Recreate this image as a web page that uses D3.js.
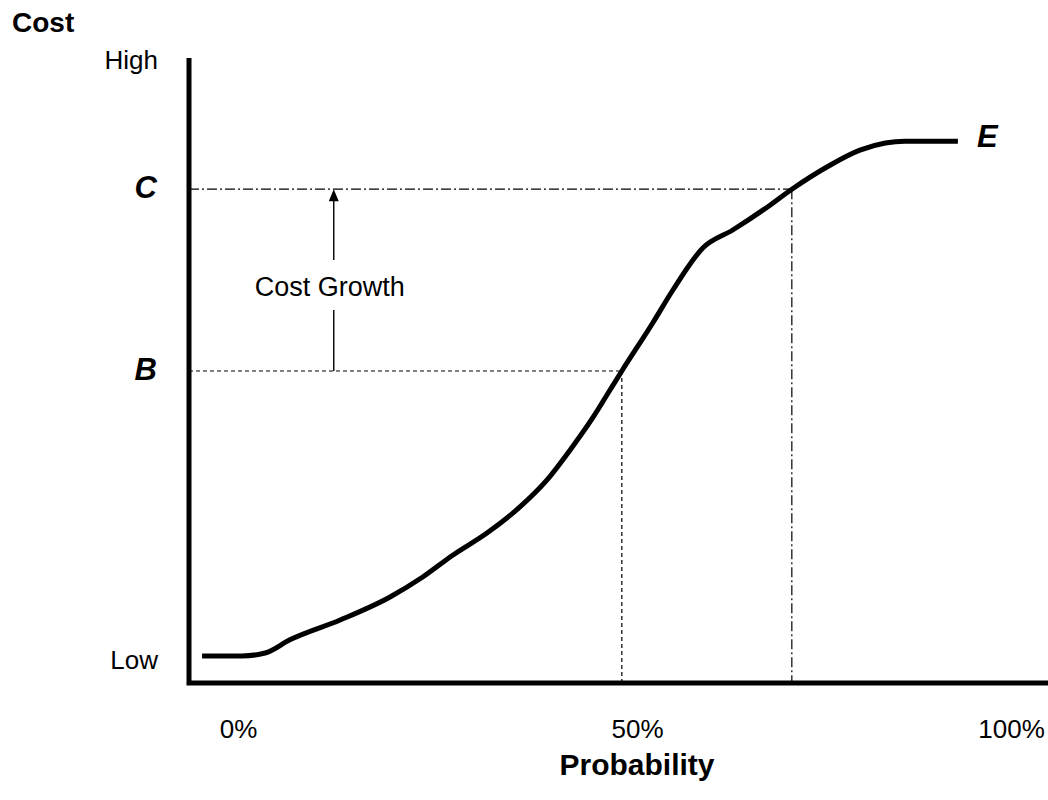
<!DOCTYPE html>
<html>
<head>
<meta charset="utf-8">
<script src="https://cdn.jsdelivr.net/npm/d3@7"></script>
<style>
  body { margin: 0; background: #fff; }
  svg { display: block; font-family: Arial, "Liberation Sans", sans-serif; }
</style>
</head>
<body>
<div id="chart"></div>
<script>
const probability = [-4.5, 0.5, 3.4, 6.5, 12.8, 19.0, 23.2, 26.9, 31.2, 35.3, 38.7, 41.6, 44.5, 46.6, 48.1,
                     52.1, 54.8, 58.8, 62.8, 67.4, 70.7, 75.8, 79.8, 83.2, 85.8, 92.9];
const cost = [0.5, 0.5, 1.0, 3.2, 6.5, 10.3, 13.7, 17.3, 21.0, 25.3, 29.8, 34.8, 40.3, 44.8, 48.0,
              56.0, 61.5, 68.5, 71.5, 75.3, 78.3, 82.3, 84.8, 86.0, 86.3, 86.3];

const xTicks = [0, 50, 100];
const yTicks = [0, 100];
const yTickNames = ["Low", "High"];

// reference points on the curve
const markerNames = ["B", "C"];
const markerProb = [48.1, 70.7];
const markerCost = [48.0, 78.3];
const markerDash = ["4,3", "10,3,2,3"];

const endName = "E";
const growthName = "Cost Growth";
const growthProb = 12;

const width = 1048;
const height = 800;
const axisX = 189;
const axisY = 683;

let x = d3.scaleLinear().domain([0, 50, 100]).range([238, 637, 1011]);
let y = d3.scaleLinear().domain([0, 100]).range([659, 59]);

let svg = d3.select("#chart").append("svg")
  .attr("width", width)
  .attr("height", height);

//guide lines for B and C
markerNames.forEach((m, i) => {
  let px = x(markerProb[i]), py = y(markerCost[i]);
  svg.append("path")
    .attr("d", `M ${axisX},${py} L ${px},${py} M ${px},${py} L ${px},${axisY}`)
    .attr("fill", "none")
    .attr("stroke", "#000")
    .attr("stroke-width", 1.2)
    .attr("stroke-dasharray", markerDash[i]);

  svg.append("text")
    .attr("x", 157)
    .attr("y", py + 9)
    .attr("text-anchor", "end")
    .attr("font-size", 31)
    .attr("font-weight", "bold")
    .attr("font-style", "italic")
    .text(m);
});

//cost growth arrow
let ax = x(growthProb);
let yB = y(markerCost[0]), yC = y(markerCost[1]);
let mid = (yB + yC) / 2;
svg.append("path")
  .attr("d", `M ${ax},${yB} L ${ax},${mid + 30} M ${ax},${mid - 20} L ${ax},${yC + 10}`)
  .attr("stroke", "#000")
  .attr("stroke-width", 1.4);
svg.append("path")
  .attr("d", `M ${ax},${yC} L ${ax - 5},${yC + 12} L ${ax + 5},${yC + 12} Z`)
  .attr("fill", "#000");
svg.append("text")
  .attr("x", ax - 4)
  .attr("y", mid + 16)
  .attr("text-anchor", "middle")
  .attr("font-size", 27)
  .text(growthName);

//curve
let line = d3.line()
  .x(d => x(d[0]))
  .y(d => y(d[1]))
  .curve(d3.curveMonotoneX);

svg.append("path")
  .datum(probability.map((p, i) => [p, cost[i]]))
  .attr("d", line)
  .attr("fill", "none")
  .attr("stroke", "#000")
  .attr("stroke-width", 5);

let last = probability.length - 1;
svg.append("text")
  .attr("x", x(probability[last]) + 19)
  .attr("y", y(cost[last]) + 6)
  .attr("font-size", 31)
  .attr("font-weight", "bold")
  .attr("font-style", "italic")
  .text(endName);

//axes lines
svg.append("path")
  .attr("d", `M ${axisX},58 L ${axisX},${axisY + 2.5} M ${axisX - 2.5},${axisY} L ${width},${axisY}`)
  .attr("fill", "none")
  .attr("stroke", "#000")
  .attr("stroke-width", 5);

//x tick labels
let xAxis = svg.append("g")
  .attr("transform", `translate(0,738)`)
  .call(d3.axisBottom(x).tickValues(xTicks).tickFormat(d => d + "%").tickSize(0).tickPadding(0));
xAxis.select(".domain").remove();
xAxis.attr("font-size", 26).attr("font-family", null);
xAxis.selectAll("text").attr("dy", 0).attr("fill", "#000");

//y tick labels
let yAxis = svg.append("g")
  .attr("transform", `translate(158,0)`)
  .call(d3.axisLeft(y).tickValues(yTicks).tickFormat((d, i) => yTickNames[i]).tickSize(0).tickPadding(0));
yAxis.select(".domain").remove();
yAxis.attr("font-size", 26).attr("font-family", null);
yAxis.selectAll("text").attr("dy", "0.35em").attr("fill", "#000");

//axis titles
svg.append("text")
  .attr("x", 12)
  .attr("y", 32)
  .attr("font-size", 28)
  .attr("font-weight", "bold")
  .text("Cost");

svg.append("text")
  .attr("x", x(50))
  .attr("y", 775)
  .attr("text-anchor", "middle")
  .attr("font-size", 30)
  .attr("font-weight", "bold")
  .text("Probability");
</script>
</body>
</html>
